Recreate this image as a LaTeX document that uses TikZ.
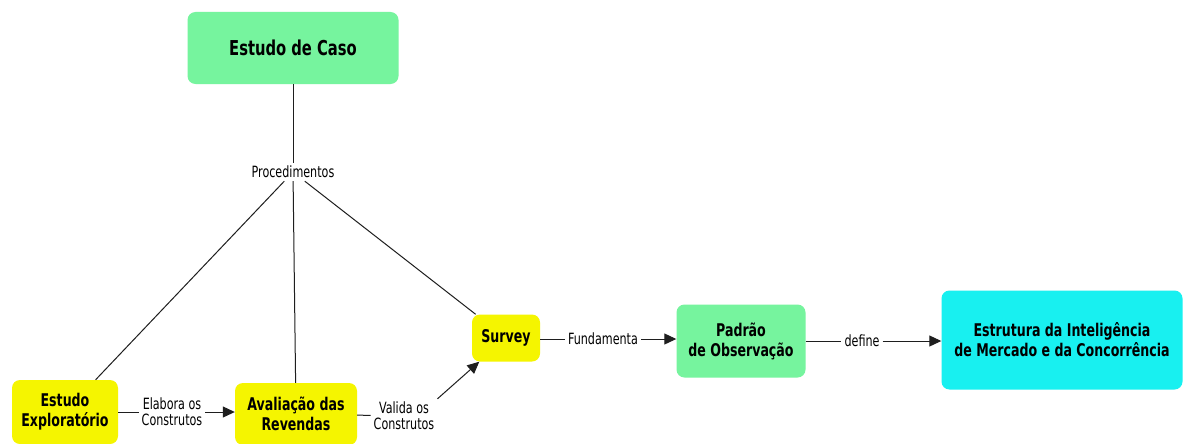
\documentclass[tikz,border=0pt]{standalone}
\usepackage{fontspec}
\setmainfont{DejaVu Sans Condensed}[FakeStretch=0.8]
\usetikzlibrary{arrows.meta}
\definecolor{boxgreen}{RGB}{118,244,158}
\definecolor{boxyellow}{RGB}{245,245,0}
\definecolor{boxcyan}{RGB}{24,240,240}
\definecolor{linegray}{RGB}{30,30,30}
\tikzset{
  box/.style={rounded corners=8pt, align=center, font=\bfseries\fontsize{17.5}{20}\selectfont, text=black, inner sep=0pt},
  lbl/.style={align=center, font=\fontsize{15.5}{16}\selectfont, inner sep=3pt, fill=white},
  conn/.style={draw=linegray, line width=1pt},
  arr/.style={conn, -{Triangle[length=12pt,width=11pt]}},
}
\begin{document}
\begin{tikzpicture}[x=1pt,y=-1pt]
\clip (0,0) rectangle (1185,444);
\fill[white] (0,0) rectangle (1185,444);
\node[box, fill=boxgreen, minimum width=211pt, minimum height=72pt, font=\bfseries\fontsize{20.5}{24}\selectfont] (caso) at (293,48) {Estudo de Caso};
\node[lbl] (proc) at (293,172) {Procedimentos};
\node[box, fill=boxyellow, minimum width=106pt, minimum height=64pt] (expl) at (65,412) {Estudo\\Exploratório};
\node[box, fill=boxyellow, minimum width=122pt, minimum height=62pt] (aval) at (296,414) {Avaliação das\\Revendas};
\node[box, fill=boxyellow, minimum width=68pt, minimum height=47pt] (surv) at (506,338) {Survey};
\node[box, fill=boxgreen, minimum width=129pt, minimum height=73pt] (padr) at (741,341) {Padrão\\de Observação};
\node[box, fill=boxcyan, minimum width=241pt, minimum height=99pt] (estr) at (1062,340) {Estrutura da Inteligência\\de Mercado e da Concorrência};
\node[lbl] (elab) at (172,412) {Elabora os\\Construtos};
\node[lbl] (vali) at (404,416) {Valida os\\Construtos};
\node[lbl] (fund) at (603,339) {Fundamenta};
\node[lbl] (defi) at (862,341) {define};
\draw[conn] (caso) -- (proc);
\draw[conn] (proc) -- (expl);
\draw[conn] (proc) -- (aval);
\draw[conn] (proc) -- (surv);
\draw[conn] (expl.east |- elab) -- (elab);
\draw[arr] (elab) -- (aval.west |- elab);
\draw[conn] (aval) -- (vali);
\draw[arr] (vali.north east) -- (surv);
\draw[conn] (surv.east |- fund) -- (fund);
\draw[arr] (fund) -- (padr.west |- fund);
\draw[conn] (padr) -- (defi);
\draw[arr] (defi) -- (estr.west |- defi);
\end{tikzpicture}
\end{document}
